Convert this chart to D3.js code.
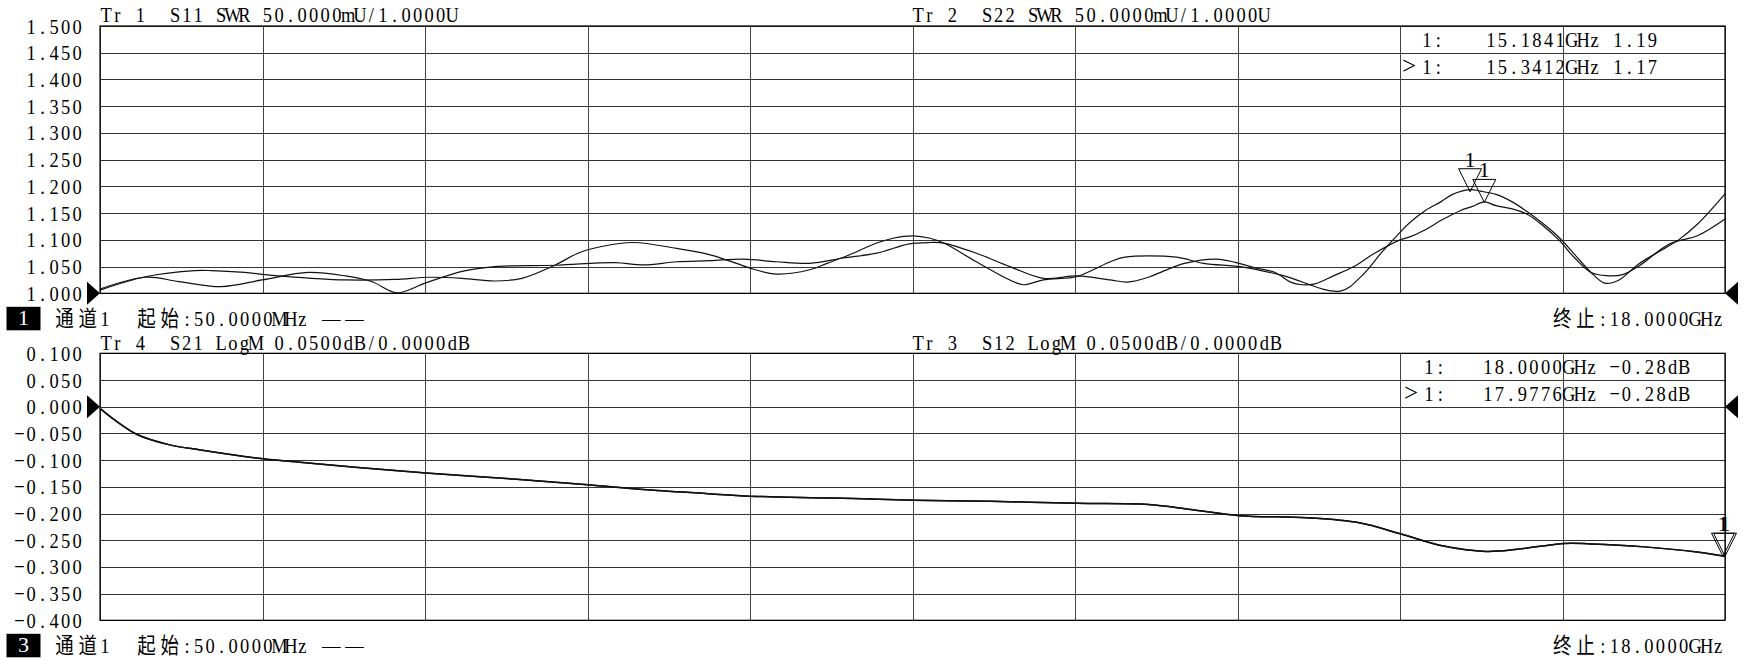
<!DOCTYPE html>
<html>
<head>
<meta charset="utf-8">
<script src="https://cdn.jsdelivr.net/npm/d3@7"></script>
<style>
body { margin: 0; background: #fff; }
text { font-family: "Liberation Serif", "Noto Sans CJK SC", serif; font-size: 22px; fill: #000; white-space: pre; }
</style>
</head>
<body>
<div id="chart"></div>
<script>
// --- data (GHz / SWR / dB) ---
var s11Freq = [0.05, 0.55, 1.10, 1.28, 1.65, 2.02, 2.39, 2.76, 3.31, 3.68, 4.05, 4.41, 4.71, 5.08, 5.33, 5.59,
  5.94, 6.42, 6.79, 7.08, 7.23, 7.52, 7.89, 8.08, 8.33, 8.63, 8.81, 9.03, 9.22, 9.37, 9.73, 10.10, 10.25,
  10.47, 10.84, 11.02, 11.21, 11.37, 11.94, 12.24, 12.68, 13.12, 13.75, 13.99, 14.21, 14.41, 14.51, 14.69,
  14.86, 14.99, 15.18, 15.30, 15.47, 15.65, 15.82, 16.00, 16.17, 16.34, 16.52, 16.67, 16.82, 17.04, 17.26,
  17.48, 17.70, 18.0];
var s11Swr = [1.006, 1.031, 1.0425, 1.0425, 1.039, 1.0325, 1.028, 1.025, 1.026, 1.030, 1.028, 1.023, 1.028, 1.053, 1.075, 1.0875,
  1.095, 1.084, 1.072, 1.056, 1.047, 1.036, 1.044, 1.056, 1.072, 1.094, 1.103, 1.1075, 1.103, 1.094, 1.059, 1.025, 1.016,
  1.025, 1.031, 1.044, 1.059, 1.0675, 1.0675, 1.056, 1.049, 1.033, 1.004, 1.033, 1.077, 1.114, 1.131, 1.155,
  1.171, 1.185, 1.194, 1.191, 1.185, 1.171, 1.152, 1.129, 1.104, 1.0725, 1.039, 1.019, 1.024, 1.054, 1.077,
  1.099, 1.13, 1.186];

var s22Freq = [0.05, 0.55, 0.92, 1.39, 1.84, 2.35, 2.76, 3.05, 3.33, 3.64, 4.05, 4.41, 5.08, 5.74, 6.05, 6.42,
  6.79, 7.16, 7.52, 7.89, 8.26, 8.63, 8.99, 9.22, 9.37, 9.73, 10.10, 10.47, 10.84, 11.21, 11.40, 11.63, 11.81,
  12.03, 12.38, 12.59, 12.81, 13.03, 13.20, 13.33, 13.47, 13.68, 13.90, 14.12, 14.41, 14.51, 14.69, 14.86,
  15.08, 15.21, 15.34, 15.47, 15.65, 15.82, 16.00, 16.17, 16.34, 16.52, 16.69, 16.87, 17.04, 17.39, 17.70, 18.0];
var s22Swr = [1.008, 1.030, 1.022, 1.0125, 1.025, 1.039, 1.0325, 1.022, 1.001, 1.019, 1.041, 1.050, 1.0525, 1.0575, 1.053, 1.059,
  1.061, 1.064, 1.059, 1.056, 1.066, 1.075, 1.0925, 1.095, 1.094, 1.075, 1.050, 1.028, 1.0325, 1.025, 1.021, 1.030, 1.0425,
  1.056, 1.064, 1.058, 1.0475, 1.039, 1.021, 1.016, 1.0175, 1.033, 1.05, 1.074, 1.10, 1.105, 1.119, 1.136,
  1.155, 1.1625, 1.171, 1.164, 1.158, 1.1475, 1.125, 1.099, 1.066, 1.039, 1.033, 1.035, 1.05, 1.0925, 1.108, 1.139];

var s21Freq = [0.05, 0.23, 0.46, 0.81, 1.16, 1.85, 2.32, 2.90, 3.65, 4.65, 5.44, 6.05, 6.74, 7.23, 8.14, 9.04,
  9.89, 10.84, 11.63, 12.10, 12.64, 13.38, 13.96, 14.43, 14.89, 15.36, 15.71, 16.23, 16.52, 17.11, 17.69, 18.0];
var s21Db = [-0.003, -0.027, -0.052, -0.071, -0.081, -0.0975, -0.105, -0.114, -0.124, -0.136, -0.146, -0.155, -0.1625, -0.1675, -0.171, -0.175,
  -0.177, -0.181, -0.183, -0.1925, -0.204, -0.208, -0.2175, -0.239, -0.261, -0.271, -0.267, -0.256, -0.257, -0.2625, -0.272, -0.28];
// S12 lies on top of S21 on the screen
var s12Freq = s21Freq;
var s12Db = s21Db;

var swrTicks = d3.ticks(1.0, 1.5, 10);
var dbTicks = d3.ticks(-0.4, 0.1, 10);
var freqGrid = d3.range(11).map(function (i) { return 0.05 + i * 1.795; });

var topMarkerFreq = [15.1841, 15.3412];
var topMarkerVal = [1.19, 1.17];
var botMarkerFreq = [18.0, 17.9776];
var botMarkerVal = [-0.28, -0.28];

// --- layout ---
var width = 1745, height = 664;
var plotL = 100, plotR = 1725;
var CW = 11.55; // one half-width character cell
var SX = 0.84;  // the screen font is narrow

var svg = d3.select("#chart")
  .append("svg")
  .attr("width", width)
  .attr("height", height)
  .style("background-color", "white");

function cells(c) {
  return /[\u2014\u3000-\u9fff\uff00-\uffef]/.test(c) ? 2 : 1;
}

// lay the glyphs out in fixed cells like the instrument font
function mono(node, x, anchor) {
  var chars = Array.from(node.textContent);
  var total = d3.sum(chars, cells) * CW;
  var pos = anchor === "end" ? x - total : x;
  var xs = chars.map(function (c, i) {
    var w = node.getSubStringLength(i, 1) * SX;
    var cw = cells(c) * CW;
    var px = pos + (cw - w) / 2;
    pos += cw;
    return (px / SX).toFixed(2);
  });
  d3.select(node)
    .attr("text-anchor", "start")
    .attr("transform", "scale(" + SX + ",1)")
    .attr("x", xs.join(" "));
}

function label(g, str, x, y, anchor) {
  var t = g.append("text").attr("y", y).text(str);
  mono(t.node(), x, anchor);
  return t;
}

function panel(cfg) {
  var g = svg.append("g");
  var x = d3.scaleLinear().domain([0.05, 18]).range([plotL, plotR]);
  var y = d3.scaleLinear().domain(cfg.domain).range([cfg.bottom, cfg.top]);

  // horizontal grid with the scale labels
  var yAx = g.append("g")
    .attr("transform", "translate(" + plotL + ",0)")
    .call(d3.axisLeft(y).tickValues(cfg.ticks).tickFormat(d3.format(".3f"))
      .tickSizeInner(-(plotR - plotL)).tickSizeOuter(0).tickPadding(17));
  yAx.select(".domain").remove();
  yAx.selectAll(".tick line").attr("stroke", "#333").attr("shape-rendering", "crispEdges");
  yAx.selectAll(".tick text").each(function () { mono(this, -17, "end"); });

  // vertical grid
  var xAx = g.append("g")
    .attr("transform", "translate(0," + cfg.bottom + ")")
    .call(d3.axisBottom(x).tickValues(freqGrid).tickFormat("")
      .tickSizeInner(-(cfg.bottom - cfg.top)).tickSizeOuter(0));
  xAx.select(".domain").remove();
  xAx.selectAll(".tick line").attr("stroke", "#444").attr("shape-rendering", "crispEdges");

  g.append("rect")
    .attr("x", plotL).attr("y", cfg.top)
    .attr("width", plotR - plotL).attr("height", cfg.bottom - cfg.top)
    .attr("fill", "none").attr("stroke", "#000").attr("stroke-width", 1.2);

  // traces
  var line = d3.line()
    .x(function (d) { return x(d[0]); })
    .y(function (d) { return y(d[1]); })
    .curve(d3.curveCatmullRom.alpha(0.5));
  cfg.traces.forEach(function (tr) {
    g.append("path")
      .datum(d3.zip(tr[0], tr[1]))
      .attr("d", line)
      .attr("fill", "none")
      .attr("stroke", "#111")
      .attr("stroke-width", cfg.lineW);
  });

  // reference level arrows
  var ry = y(cfg.ref);
  g.append("path")
    .attr("d", "M" + (plotL - 13) + "," + (ry - 11.5) + "L" + plotL + "," + ry + "L" + (plotL - 13) + "," + (ry + 11.5) + "Z")
    .attr("fill", "#000");
  g.append("path")
    .attr("d", "M" + (plotR + 13) + "," + (ry - 11.5) + "L" + plotR + "," + ry + "L" + (plotR + 13) + "," + (ry + 11.5) + "Z")
    .attr("fill", "#000");

  // markers
  cfg.mFreq.forEach(function (f, i) {
    var mx = x(f), my = y(cfg.mVal[i]);
    g.append("path")
      .attr("d", "M" + (mx - 11.5) + "," + (my - 23) + "L" + (mx + 11.5) + "," + (my - 23) + "L" + mx + "," + my + "Z")
      .attr("fill", "none").attr("stroke", "#000").attr("stroke-width", 1);
    g.append("text")
      .attr("x", mx).attr("y", my - 25)
      .attr("text-anchor", "middle")
      .text("1");
    var by = cfg.top + 20.7 + i * 27.3;
    if (i === 1) {
      g.append("text")
        .attr("x", cfg.colonX - 12).attr("y", by)
        .attr("text-anchor", "middle")
        .style("font-size", "25px")
        .text(">");
    }
    label(g, "1:", cfg.colonX, by);
    label(g, d3.format(".4f")(f) + "GHz " + d3.format(".2f")(cfg.mVal[i]) + cfg.unit, cfg.valX, by);
  });

  // trace titles
  label(g, cfg.titles[0], plotL, cfg.top - 3.5);
  label(g, cfg.titles[1], 912, cfg.top - 3.5);

  // channel line under the grid
  var cy = cfg.bottom + 32.7;
  g.append("rect")
    .attr("x", 6.5).attr("y", cfg.bottom + 13.5)
    .attr("width", 34).attr("height", 23.5)
    .attr("fill", "#000");
  g.append("text")
    .attr("x", 23.5).attr("y", cy - 1)
    .attr("text-anchor", "middle")
    .style("fill", "#fff")
    .text(cfg.chan);
  label(g, "通道1", 53, cy);
  label(g, "起始:50.0000MHz ——", 135, cy);
  label(g, "终止:18.0000GHz", 1724, cy, "end");
}

panel({
  domain: [1.0, 1.5], ticks: swrTicks, top: 26, bottom: 293.3, ref: 1.0,
  traces: [[s11Freq, s11Swr], [s22Freq, s22Swr]], lineW: 1.2,
  mFreq: topMarkerFreq, mVal: topMarkerVal, unit: "", colonX: 1421, valX: 1485,
  titles: ["Tr 1  S11 SWR 50.0000mU/1.0000U", "Tr 2  S22 SWR 50.0000mU/1.0000U"],
  chan: "1"
});

panel({
  domain: [-0.4, 0.1], ticks: dbTicks, top: 353.3, bottom: 620.3, ref: 0,
  traces: [[s21Freq, s21Db], [s12Freq, s12Db]], lineW: 1.5,
  mFreq: botMarkerFreq, mVal: botMarkerVal, unit: "dB", colonX: 1423, valX: 1482,
  titles: ["Tr 4  S21 LogM 0.0500dB/0.0000dB", "Tr 3  S12 LogM 0.0500dB/0.0000dB"],
  chan: "3"
});
</script>
</body>
</html>
